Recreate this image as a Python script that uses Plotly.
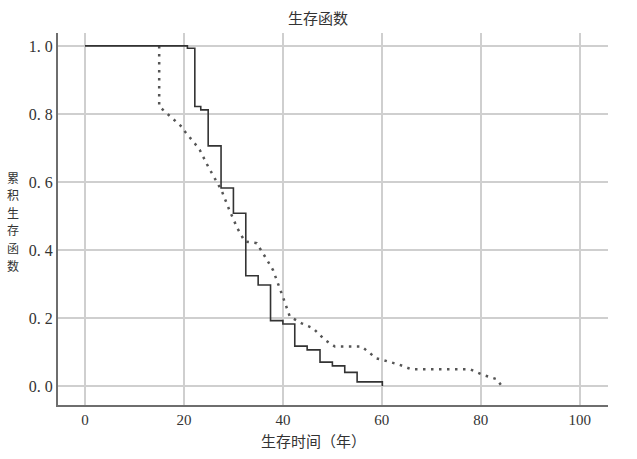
import plotly.graph_objects as go

# Group 1 (solid, Kaplan-Meier steps)
t_solid = [0, 20.7, 22.2, 23.4, 24.9, 27.5, 30.0, 32.5, 35.0, 37.5, 40.0, 42.4, 44.9, 47.5, 50.0, 52.5, 55.0, 60.1]
s_solid = [1.0, 0.993, 0.822, 0.812, 0.706, 0.582, 0.508, 0.324, 0.297, 0.192, 0.182, 0.117, 0.106, 0.070, 0.059, 0.040, 0.012, 0.0]

# Group 2 (dotted)
t_dot = [15, 15, 19.5, 20.2, 22.2, 23.2, 24.9, 27.6, 29.3, 30.8, 32.3, 34.7, 36.4, 38.0, 40.1, 41.4, 43.8, 46.1, 48.5, 50.5, 55.9, 58.9, 60.3, 63.6, 66.0, 77.8, 80.5, 83.2, 84.2]
s_dot = [1.0, 0.822, 0.763, 0.748, 0.713, 0.694, 0.645, 0.575, 0.513, 0.464, 0.425, 0.42, 0.38, 0.341, 0.258, 0.204, 0.184, 0.17, 0.135, 0.116, 0.116, 0.081, 0.076, 0.062, 0.049, 0.049, 0.032, 0.02, 0.0]

x_ticks = [0, 20, 40, 60, 80, 100]
x_ticktext = ["0", "20", "40", "60", "80", "100"]
y_ticks = [0.0, 0.2, 0.4, 0.6, 0.8, 1.0]
y_ticktext = ["0. 0", "0. 2", "0. 4", "0. 6", "0. 8", "1. 0"]

title_text = "生存函数"
x_title = "生存时间（年）"
y_title = "累积生存函数"

num_font = "Liberation Serif, DejaVu Serif, serif"
cjk_font = "Noto Sans CJK SC, sans-serif"
txt_color = "#333333"

L, T, W, H = 58, 33, 550, 372


def px_x(p):
    return (p - L) / W


def px_y(p):
    return (T + H - p) / H


fig = go.Figure()
fig.add_trace(go.Scatter(x=t_dot, y=s_dot, mode="lines",
                         line=dict(color="#555555", width=2.5, dash="2.5px,5.5px"),
                         showlegend=False, hoverinfo="skip"))
fig.add_trace(go.Scatter(x=t_solid, y=s_solid, mode="lines",
                         line=dict(color="#333333", width=1.6, shape="hv"),
                         showlegend=False, hoverinfo="skip"))

annotations = [
    dict(text=title_text, x=px_x(318), y=px_y(17), xref="paper", yref="paper",
         showarrow=False, font=dict(family=cjk_font, size=15, color=txt_color),
         xanchor="center", yanchor="middle"),
    dict(text=x_title, x=px_x(313), y=px_y(441), xref="paper", yref="paper",
         showarrow=False, font=dict(family=cjk_font, size=15, color=txt_color),
         xanchor="center", yanchor="middle"),
]
for i, ch in enumerate(y_title):
    annotations.append(dict(text=ch, x=px_x(13), y=px_y(177 + i * 17.6),
                            xref="paper", yref="paper", showarrow=False,
                            font=dict(family=cjk_font, size=12, color=txt_color),
                            xanchor="center", yanchor="middle", borderpad=0))

fig.update_layout(
    width=637, height=459,
    margin=dict(l=L, r=637 - L - W, t=T, b=459 - T - H, autoexpand=False),
    paper_bgcolor="white", plot_bgcolor="white",
    xaxis=dict(range=[-5.45, 105.7], tickvals=x_ticks, ticktext=x_ticktext,
               showgrid=True, gridcolor="#cfcfcf", gridwidth=1.5,
               showline=True, linecolor="#6e6e6e", linewidth=2,
               zeroline=False, ticks="", ticklen=0, automargin=False,
               tickfont=dict(family=num_font, size=15, color=txt_color)),
    yaxis=dict(range=[-0.056, 1.038], tickvals=y_ticks, ticktext=y_ticktext,
               showgrid=True, gridcolor="#cfcfcf", gridwidth=1.5,
               showline=True, linecolor="#6e6e6e", linewidth=2,
               zeroline=False, ticks="", ticklen=0, automargin=False,
               tickfont=dict(family=num_font, size=16, color=txt_color)),
    annotations=annotations,
)
fig.write_html("out.html", config={"displayModeBar": False},
               post_script="document.body.style.margin='0';")
